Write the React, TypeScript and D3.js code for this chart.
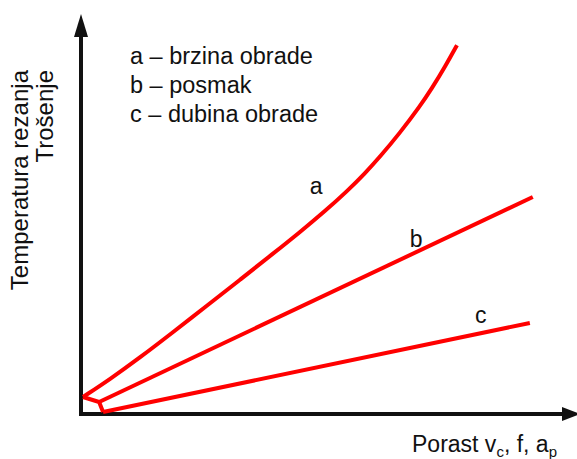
import React from "react";
import * as d3 from "d3";

// ---- data (abstract units: x 0..100, y 0..100) ----
const curveA_x = [0.41, 5.92, 12.04, 18.78, 25.71, 32.45, 39.18, 44.69, 49.8, 54.29, 57.96, 61.02, 65.1, 69.18, 71.63, 74.29, 76.73];
const curveA_y = [4.0, 8.45, 13.85, 20.2, 26.83, 33.3, 39.83, 45.23, 50.48, 55.43, 59.93, 64.05, 70.05, 76.7, 81.2, 86.56, 91.96];
const lineB_x = [3.7, 92.2];
const lineB_y = [2.75, 54.0];
const lineC_x = [4.5, 91.6];
const lineC_y = [0.25, 22.5];
const joint_x = [0.4, 3.7, 4.5];
const joint_y = [4.0, 2.75, 0.25];

const legendLines = ["a – brzina obrade", "b – posmak", "c – dubina obrade"];
const curveLabels = ["a", "b", "c"];
const curveLabelX = [46.7, 67.1, 80.4];
const curveLabelY = [54.8, 41.5, 22.5];
const yLabelLines = ["Temperatura rezanja", "Trošenje"];

const W = 577;
const H = 459;
const FONT = "'Liberation Sans', Arial, Helvetica, sans-serif";
const RED = "#ff0000";
const INK = "#111111";

export default function App() {
  const x = d3.scaleLinear().domain([0, 100]).range([81, 571]);
  const y = d3.scaleLinear().domain([0, 100]).range([413, 13]);

  const curve = d3
    .line<[number, number]>()
    .x((d) => x(d[0]))
    .y((d) => y(d[1]))
    .curve(d3.curveBasis);
  const straight = d3
    .line<[number, number]>()
    .x((d) => x(d[0]))
    .y((d) => y(d[1]));

  const zip = (xs: number[], ys: number[]) =>
    xs.map((v, i) => [v, ys[i]] as [number, number]);

  const ax = x(0);
  const ay = 414;

  return (
    <svg
      width={W}
      height={H}
      style={{ position: "absolute", left: 0, top: 0, background: "#fff" }}
      fontFamily={FONT}
    >
      <rect width={W} height={H} fill="#fff" />
      {/* axes */}
      <line x1={ax} y1={ay + 2} x2={ax} y2={34} stroke={INK} strokeWidth={4} />
      <polygon points={`${ax},14 ${ax - 7},37 ${ax + 7},37`} fill={INK} />
      <line x1={ax - 2} y1={ay} x2={564} y2={ay} stroke={INK} strokeWidth={4} />
      <polygon points={`580,${ay} 562,${ay - 7} 562,${ay + 7}`} fill={INK} />

      {/* curves */}
      <g fill="none" stroke={RED} strokeWidth={4} strokeLinejoin="round">
        <path d={curve(zip(curveA_x, curveA_y)) || ""} />
        <path d={straight(zip(lineB_x, lineB_y)) || ""} />
        <path d={straight(zip(lineC_x, lineC_y)) || ""} />
        <path d={straight(zip(joint_x, joint_y)) || ""} />
      </g>

      {/* curve labels */}
      {curveLabels.map((t, i) => (
        <text key={t} x={x(curveLabelX[i])} y={y(curveLabelY[i])} fontSize={23} fill={INK}>
          {t}
        </text>
      ))}

      {/* legend */}
      {legendLines.map((t, i) => (
        <text key={t} x={130} y={64 + i * 29} fontSize={23.5} fill={INK}>
          {t}
        </text>
      ))}

      {/* y label */}
      {yLabelLines.map((t, i) => (
        <text
          key={t}
          transform={`translate(${28 + i * 25},70) rotate(-90)`}
          textAnchor="end"
          fontSize={24}
          fill={INK}
        >
          {t}
        </text>
      ))}

      {/* x label */}
      <text x={412} y={452} fontSize={23} fill={INK}>
        Porast v
        <tspan fontSize={15} dy={5}>c</tspan>
        <tspan dy={-5}>, f, a</tspan>
        <tspan fontSize={15} dy={5}>p</tspan>
      </text>
    </svg>
  );
}
